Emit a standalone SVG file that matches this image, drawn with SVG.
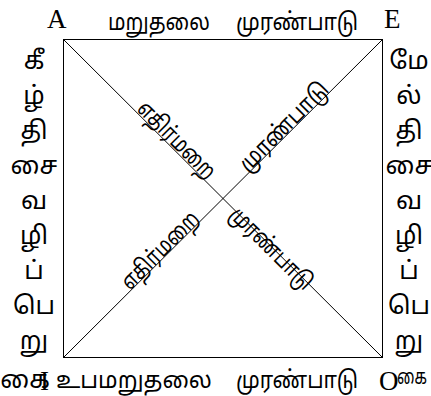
<svg xmlns="http://www.w3.org/2000/svg" width="431" height="396" viewBox="0 0 431 396">
<style>
.t{font-family:"Noto Sans Tamil","Lohit Tamil","Noto Serif Tamil",sans-serif;font-size:24px;fill:#000}
.d{font-family:"Noto Sans Tamil","Lohit Tamil","Noto Serif Tamil",sans-serif;font-size:23px;fill:#000}
.l{font-family:"Liberation Serif",serif;font-size:27px;fill:#000}
.v{font-family:"Noto Sans Tamil","Lohit Tamil","Noto Serif Tamil",sans-serif;font-size:25px;fill:#000;text-anchor:middle}
</style>
<rect width="431" height="396" fill="#fff"/>
<g id="connectors" stroke="#000" stroke-width="1" fill="none">
<rect x="63.5" y="39.5" width="319" height="318"/>
<line x1="63.5" y1="39.5" x2="382.5" y2="357.5"/>
<line x1="382.5" y1="39.5" x2="63.5" y2="357.5"/>
</g>
<g id="A"><text class="l" x="47" y="28">A</text></g>
<g id="E"><text class="l" x="384" y="28">E</text></g>
<g id="left">
<text class="v" x="34" y="69">கீ</text>
<text class="v" x="34" y="104">ழ்</text>
<text class="v" x="34" y="139">தி</text>
<text class="v" x="34" y="174">சை</text>
<text class="v" x="34" y="209">வ</text>
<text class="v" x="34" y="244">ழி</text>
<text class="v" x="34" y="279">ப்</text>
<text class="v" x="34" y="314">பெ</text>
<text class="v" x="34" y="349">று</text>
<text class="v" x="25" y="388">கை</text>
</g>
<g id="right">
<text class="v" x="409" y="69">மே</text>
<text class="v" x="409" y="104">ல்</text>
<text class="v" x="409" y="139">தி</text>
<text class="v" x="409" y="174">சை</text>
<text class="v" x="409" y="209">வ</text>
<text class="v" x="409" y="244">ழி</text>
<text class="v" x="409" y="279">ப்</text>
<text class="v" x="409" y="314">பெ</text>
<text class="v" x="409" y="349">று</text>
<text class="v" x="412" y="384" style="font-size:21px" textLength="30" lengthAdjust="spacingAndGlyphs">கை</text>
</g>
<g id="I"><text class="l" x="40" y="390">I</text></g>
<g id="O"><text class="l" x="379" y="390">O</text></g>
<g id="top">
<text class="t" x="108" y="30" textLength="102" lengthAdjust="spacingAndGlyphs">மறுதலை</text>
<text class="t" x="236" y="30" textLength="122" lengthAdjust="spacingAndGlyphs">முரண்பாடு</text>
</g>
<g id="bottom">
<text class="t" x="56" y="388" textLength="156" lengthAdjust="spacingAndGlyphs">உபமறுதலை</text>
<text class="t" x="236" y="388" textLength="122" lengthAdjust="spacingAndGlyphs">முரண்பாடு</text>
</g>
<g id="diag1"><text class="d" transform="translate(136,110) rotate(45)" textLength="100" lengthAdjust="spacingAndGlyphs">எதிர்மறை</text></g>
<g id="diag2"><text class="d" transform="translate(248,173) rotate(-45)" textLength="116" lengthAdjust="spacingAndGlyphs">முரண்பாடு</text></g>
<g id="diag3"><text class="d" transform="translate(130,291) rotate(-45)" textLength="100" lengthAdjust="spacingAndGlyphs">எதிர்மறை</text></g>
<g id="diag4"><text class="d" transform="translate(234,210) rotate(45)" y="8" textLength="107" lengthAdjust="spacingAndGlyphs">முரண்பாடு</text></g>
</svg>
